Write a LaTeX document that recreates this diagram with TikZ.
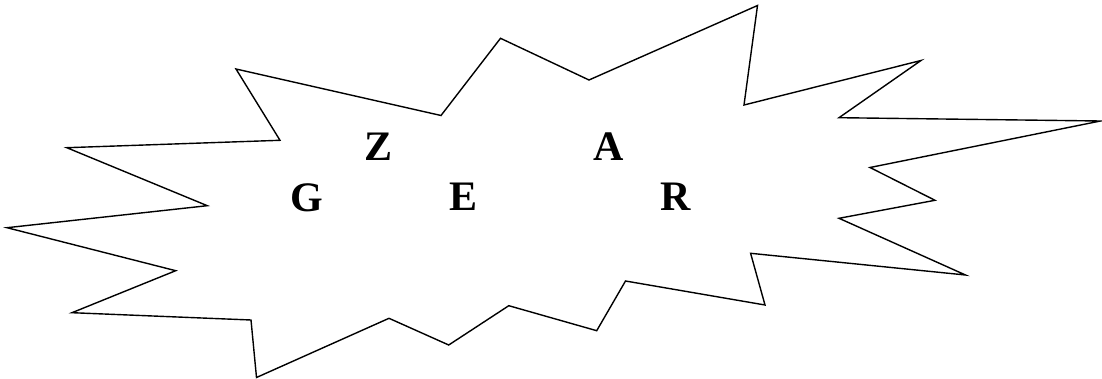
\documentclass[tikz,border=0pt]{standalone}
\usepackage{fontspec}
\setmainfont{Liberation Serif}
\begin{document}
\begin{tikzpicture}[x=1pt,y=-1pt,
  burst/.style={draw=black,line width=1.4pt,line join=miter},
  letter/.style={anchor=base,inner sep=0pt,font=\fontsize{42}{42}\selectfont\bfseries}]
\useasboundingbox (0,0) rectangle (1102,379);
\draw[burst] (236,69) -- (441,115.5) -- (500.5,38.3) -- (589,80) -- (757.5,5.5)
  -- (744,105) -- (921,60.5) -- (839,117.7) -- (1100.5,121) -- (870,167.5)
  -- (935,200.3) -- (839,218.3) -- (965.5,275) -- (750.6,253.3) -- (765,305)
  -- (625.5,281) -- (596.7,330.7) -- (508.8,305.7) -- (448.7,345) -- (389,318.3)
  -- (256.5,377.5) -- (251,320) -- (72,312.7) -- (175.7,270.7) -- (7,227.7)
  -- (207.3,205.7) -- (66.8,147.7) -- (280,140.3) -- cycle;
\node[letter] (z) at (378.6,161) {Z};
\node[letter] (a) at (608.5,161) {A};
\node[letter] (g) at (306.6,211.5) {G};
\node[letter] (e) at (463.3,211) {E};
\node[letter] (r) at (675.5,211) {R};
\end{tikzpicture}
\end{document}
